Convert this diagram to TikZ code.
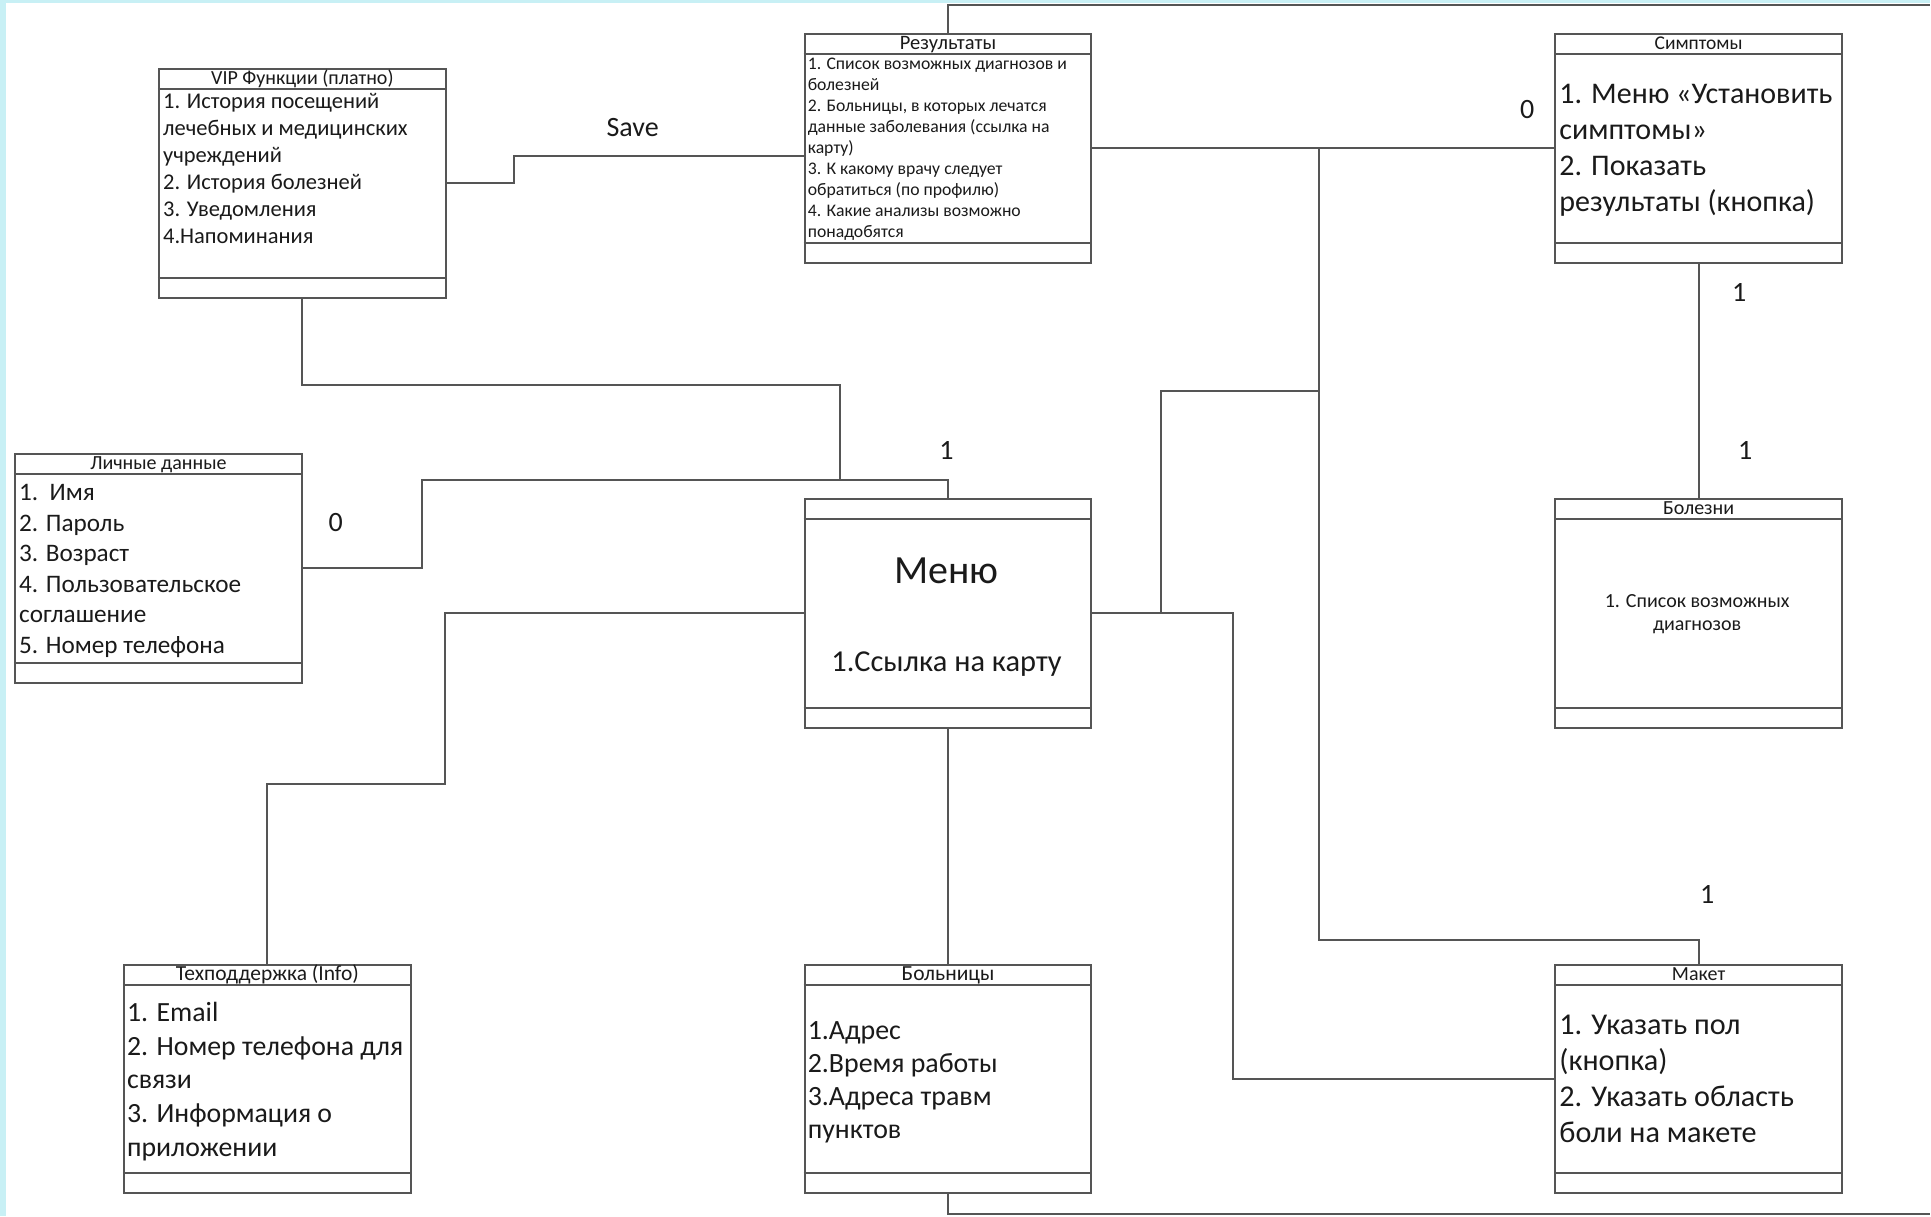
\documentclass[tikz,border=0pt]{standalone}
\usepackage{fontspec}
\setmainfont{Carlito}
\definecolor{linegray}{HTML}{555555}
\definecolor{textcol}{HTML}{1A1A1A}
\definecolor{cyanbg}{HTML}{C8F0F5}
\newcommand{\umlclass}[5]{%
  \node[umlbox] (#1) at (#2,#3) {};
  \draw[conn] ([yshift=-21pt]#1.north west) -- ([yshift=-21pt]#1.north east);
  \draw[conn] ([yshift=21pt]#1.south west) -- ([yshift=21pt]#1.south east);
  \node[boxtitle, font=\fontsize{#4}{#4}\selectfont] (#1-title) at ([yshift=-16.5pt]#1.north) {#5};
}
\begin{document}
\begin{tikzpicture}[x=1pt,y=-1pt,
  umlbox/.style={draw=linegray, line width=2pt, minimum width=287pt, minimum height=229pt, inner sep=0pt, anchor=north west, fill=white},
  conn/.style={draw=linegray, line width=2pt},
  boxtitle/.style={anchor=base, inner sep=0pt, text=textcol},
  boxtext/.style={anchor=north west, inner sep=0pt, align=left, text=textcol},
  lbl/.style={inner sep=0pt, text=textcol, font=\fontsize{28}{28}\selectfont}]
\fill[white] (0,0) rectangle (1931,1217);
\fill[cyanbg] (0,0) rectangle (6,1217);
\fill[cyanbg] (0,0) rectangle (1931,3);

% classes
\umlclass{vip}{158}{68}{20}{VIP Функции (платно)}
\umlclass{res}{804}{33}{20.5}{Результаты}
\umlclass{sym}{1555}{33}{19.5}{Симптомы}
\umlclass{pers}{14}{453}{20}{Личные данные}
\umlclass{menu}{804}{498}{18}{}
\umlclass{dis}{1555}{498}{20}{Болезни}
\umlclass{tech}{123}{964}{21.5}{Техподдержка (Info)}
\umlclass{hosp}{804}{964}{21.5}{Больницы}
\umlclass{maket}{1555}{964}{20}{Макет}

% bodies
\node[boxtext, font=\fontsize{22.5}{27}\selectfont] (vip-body) at (163,89.5)
 {\strut 1. История посещений\\лечебных и медицинских\\учреждений\\2. История болезней\\3. Уведомления\\4.Напоминания};
\node[boxtext, font=\fontsize{17.7}{21}\selectfont] (res-body) at (808,54.5)
 {\strut 1. Список возможных диагнозов и\\болезней\\2. Больницы, в которых лечатся\\данные заболевания (ссылка на\\карту)\\3. К какому врачу следует\\обратиться (по профилю)\\4. Какие анализы возможно\\понадобятся};
\node[boxtext, font=\fontsize{30}{36}\selectfont] (sym-body) at (1560,78.5)
 {\strut 1. Меню «Установить\\симптомы»\\2. Показать\\результаты (кнопка)};
\node[boxtext, font=\fontsize{25.2}{30.5}\selectfont] (pers-body) at (19,479.5)
 {\strut 1.\ \ Имя\\2. Пароль\\3. Возраст\\4. Пользовательское\\соглашение\\5. Номер телефона};
\node[boxtext, font=\fontsize{27.8}{33.6}\selectfont] (tech-body) at (127,998.5)
 {\strut 1. Email\\2. Номер телефона для\\связи\\3. Информация о\\приложении};
\node[boxtext, font=\fontsize{27.9}{33}\selectfont] (hosp-body) at (808,1017)
 {\strut 1.Адрес\\2.Время работы\\3.Адреса травм\\пунктов};
\node[boxtext, font=\fontsize{30.2}{36}\selectfont] (maket-body) at (1560,1009.5)
 {\strut 1. Указать пол\\(кнопка)\\2. Указать область\\боли на макете};
\node[anchor=north, inner sep=0pt, align=center, text=textcol, font=\fontsize{20}{23}\selectfont] (dis-body) at (1698,592)
 {\strut 1. Список возможных\\диагнозов};
\node[anchor=base, inner sep=0pt, text=textcol, font=\fontsize{40}{40}\selectfont] (menu-name) at (947,584) {Меню};
\node[anchor=base, inner sep=0pt, text=textcol, font=\fontsize{30.4}{30.4}\selectfont] (menu-body) at (947,672) {1.Ссылка на карту};

% connectors
\coordinate (topR) at (1931,5);
\coordinate (botR) at (1931,1215);
\coordinate (j1) at (840,480);
\draw[conn] (vip.east) -- ++(67,0) |- (res.west |- 0,156);
\draw[conn] (vip.south) |- (840,385.5) -- (j1);
\draw[conn] (pers.east) -| (422,480) -| (menu.north);
\draw[conn] (menu.west) -| (445,784.5) -| (tech.north);
\draw[conn] (menu.south) -- (hosp.north);
\draw[conn] (hosp.south) |- (botR);
\draw[conn] (res.north) |- (topR);
\draw[conn] (res.east) -- (sym.west);
\draw[conn] (res.east -| 1320,0) -- (1320,940) -| (maket.north);
\draw[conn] (menu.east) -- (menu.east -| 1234,0) |- (maket.west);
\draw[conn] (menu.east -| 1162,0) |- (1320,391);
\draw[conn] (sym.south) -- (dis.north);

% labels
\node[lbl] (l-save) at (633,128) {Save};
\node[lbl] (l-0a) at (336,523) {0};
\node[lbl] (l-1a) at (947,451) {1};
\node[lbl] (l-0b) at (1528,110) {0};
\node[lbl] (l-1b) at (1740,293) {1};
\node[lbl] (l-1c) at (1746,451) {1};
\node[lbl] (l-1d) at (1708,895) {1};
\end{tikzpicture}
\end{document}
